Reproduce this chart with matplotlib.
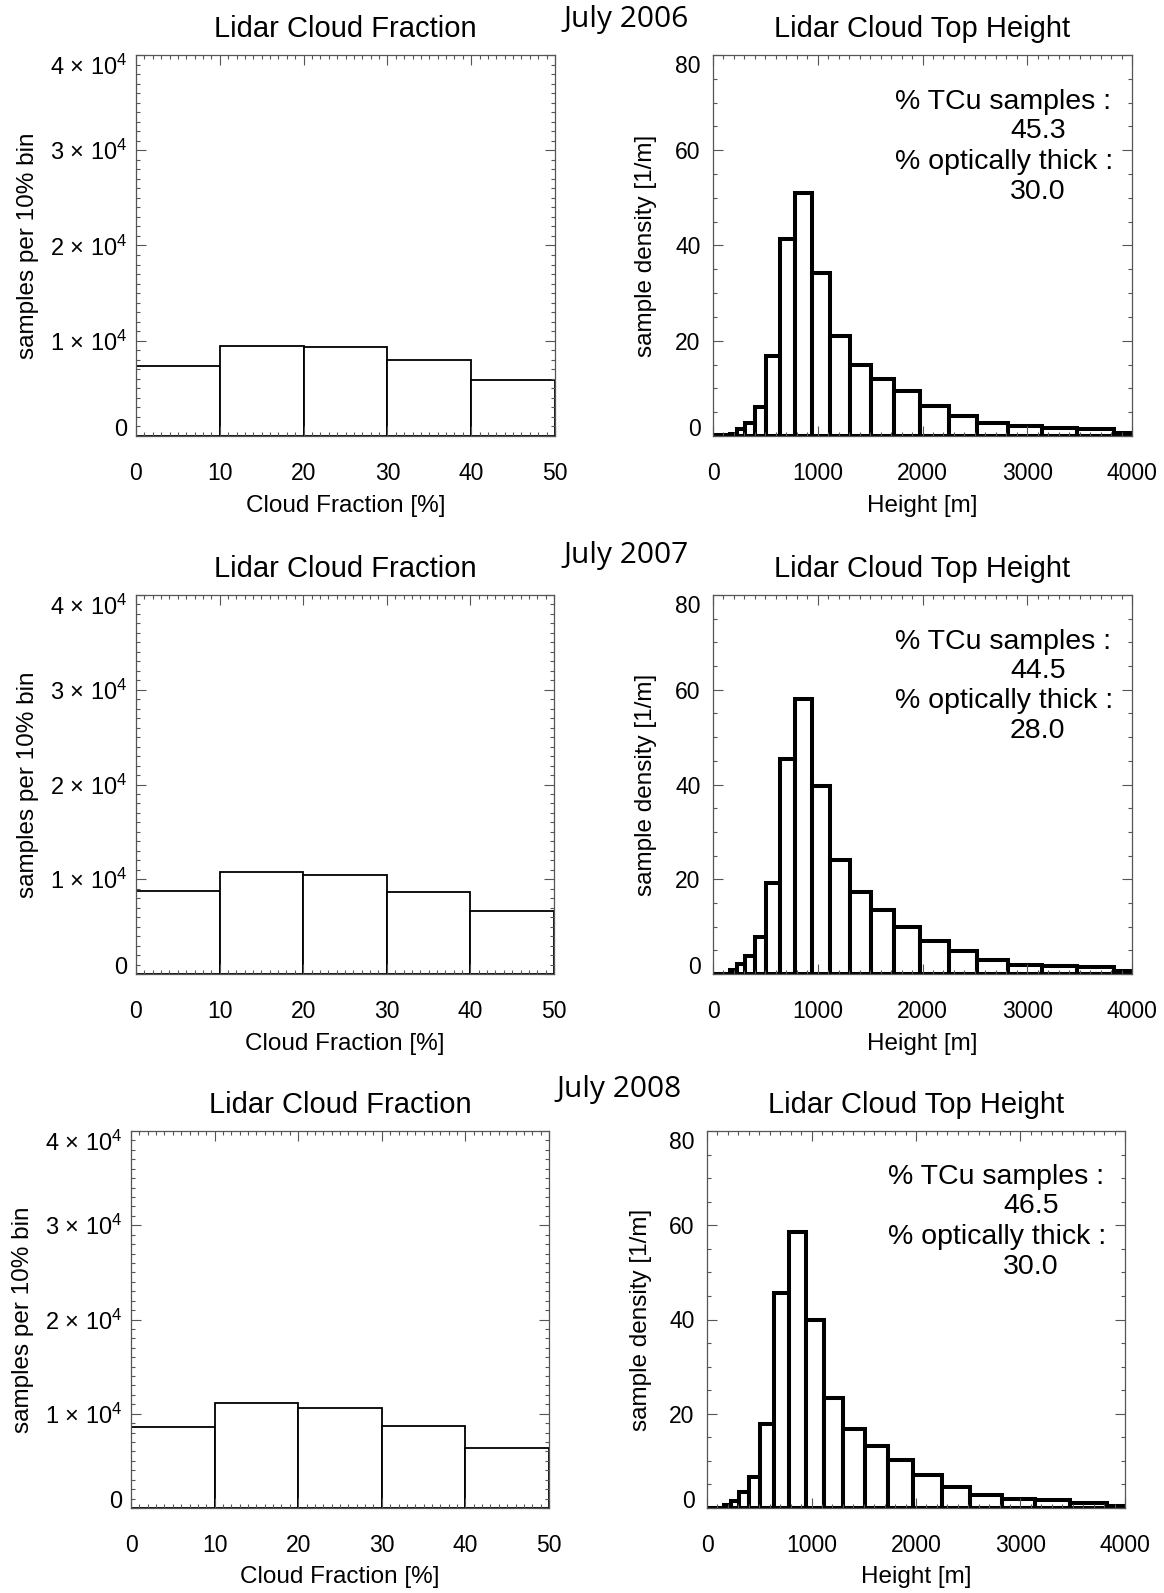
import numpy as np
import matplotlib
matplotlib.use('Agg')
import matplotlib.pyplot as plt
from matplotlib.ticker import MultipleLocator

plt.rcParams['font.family'] = ['Liberation Sans', 'DejaVu Sans']
plt.rcParams['mathtext.fontset'] = 'custom'
plt.rcParams['mathtext.rm'] = 'Liberation Sans'
plt.rcParams['mathtext.it'] = 'Liberation Sans:italic'

# ---- data ----
years = ['July 2006', 'July 2007', 'July 2008']

frac_edges = [0, 10, 20, 30, 40, 50]
frac_counts = [
    [7300, 9450, 9300, 7950, 5850],    # 2006
    [8800, 10800, 10500, 8700, 6700],  # 2007
    [8600, 11100, 10600, 8700, 6400],  # 2008
]

height_edges = [0, 160, 230, 305, 400, 505, 640, 780, 945, 1115, 1305,
                1510, 1730, 1975, 2250, 2520, 2820, 3140, 3475, 3825, 4180]
dens_2006 = [0.15, 0.5, 1.4, 2.7, 6.0, 16.9, 41.3, 51.0, 34.2, 21.1,
             14.9, 12.0, 9.4, 6.2, 4.2, 2.7, 2.0, 1.6, 1.4, 0.6]
dens_2007 = [0.1, 0.9, 2.1, 3.7, 7.9, 19.2, 45.4, 58.1, 39.6, 24.0,
             17.4, 13.6, 9.9, 6.9, 4.8, 2.9, 2.0, 1.6, 1.4, 0.6]
dens_2008 = [0.1, 0.7, 1.4, 3.5, 6.6, 17.9, 45.6, 58.6, 40.0, 23.3,
             16.8, 13.1, 10.2, 6.9, 4.4, 2.8, 1.9, 1.6, 1.1, 0.5]
dens_all = [dens_2006, dens_2007, dens_2008]

tcu_pct = ['45.3', '44.5', '46.5']
thick_pct = ['30.0', '28.0', '30.0']

frac_yticks = [0, 10000, 20000, 30000, 40000]
frac_ylabels = ['0', '1 × 10$^{4}$', '2 × 10$^{4}$', '3 × 10$^{4}$', '4 × 10$^{4}$']

W, H = 1164, 1593
fig = plt.figure(figsize=(W / 100, H / 100), dpi=100)

# panel boxes in pixels: (left, top, right, bottom)
left_boxes = [(136, 55, 555, 436), (136, 595, 554, 974), (131, 1131, 549, 1508)]
right_boxes = [(713, 55, 1132, 436), (713, 595, 1132, 974), (707, 1131, 1125, 1508)]
year_pos = [(626, 20), (626, 556), (619, 1090)]
ylab_x_left = [-0.232, -0.232, -0.233]
ylab_x_right = [-0.133, -0.133, -0.131]

SPINE = '#555555'


def make_ax(box):
    l, t, r, b = box
    ax = fig.add_axes([l / W, 1 - b / H, (r - l) / W, (b - t) / H])
    for s in ax.spines.values():
        s.set_color(SPINE)
        s.set_linewidth(0.9)
    ax.tick_params(which='both', direction='in', top=True, right=True,
                   color=SPINE, width=0.8)
    ax.tick_params(which='major', length=7.2)
    ax.tick_params(which='minor', length=3.0)
    ax.tick_params(axis='x', pad=19, labelsize=16.5)
    ax.tick_params(axis='y', labelsize=16.5)
    return ax


def shift_edge_labels(ax):
    labs = ax.get_yticklabels()
    labs[0].set_va('baseline')
    labs[-1].set_va('top')


for i in range(3):
    # cloud fraction histogram
    ax = make_ax(left_boxes[i])
    ax.bar(frac_edges[:-1], frac_counts[i], width=np.diff(frac_edges),
           align='edge', facecolor='white', edgecolor='black', linewidth=1.3)
    ax.set_xlim(0, 50)
    ax.set_ylim(0, 40000)
    ax.set_xticks(frac_edges)
    ax.xaxis.set_minor_locator(MultipleLocator(1))
    ax.set_yticks(frac_yticks)
    ax.set_yticklabels(frac_ylabels)
    ax.yaxis.set_minor_locator(MultipleLocator(1000))
    ax.tick_params(axis='y', pad=6, labelsize=17)
    shift_edge_labels(ax)
    ax.set_title('Lidar Cloud Fraction', fontsize=21, pad=13)
    ax.set_xlabel('Cloud Fraction [%]', fontsize=17.5)
    ax.set_ylabel('samples per 10% bin', fontsize=17.5)
    ax.xaxis.set_label_coords(0.5, -0.155)
    ax.yaxis.set_label_coords(ylab_x_left[i], 0.5)

    # cloud top height histogram
    ax = make_ax(right_boxes[i])
    ax.bar(height_edges[:-1], dens_all[i], width=np.diff(height_edges),
           align='edge', facecolor='white', edgecolor='black', linewidth=2.9)
    ax.set_xlim(0, 4000)
    ax.set_ylim(0, 80)
    ax.set_xticks([0, 1000, 2000, 3000, 4000])
    ax.xaxis.set_minor_locator(MultipleLocator(100))
    ax.set_yticks([0, 20, 40, 60, 80])
    ax.yaxis.set_minor_locator(MultipleLocator(5))
    ax.tick_params(axis='y', pad=9)
    shift_edge_labels(ax)
    ax.set_title('Lidar Cloud Top Height', fontsize=21, pad=13)
    ax.set_xlabel('Height [m]', fontsize=17.5)
    ax.set_ylabel('sample density [1/m]', fontsize=17.5)
    ax.xaxis.set_label_coords(0.5, -0.155)
    ax.yaxis.set_label_coords(ylab_x_right[i], 0.5)

    ax.text(0.434, 0.877, '% TCu samples :', transform=ax.transAxes,
            fontsize=20.5, va='center', ha='left')
    ax.text(0.709, 0.80, tcu_pct[i], transform=ax.transAxes,
            fontsize=20.5, va='center', ha='left')
    ax.text(0.434, 0.72, '% optically thick :', transform=ax.transAxes,
            fontsize=20.5, va='center', ha='left')
    ax.text(0.709, 0.64, thick_pct[i], transform=ax.transAxes,
            fontsize=20.5, va='center', ha='left')

    x, y = year_pos[i]
    fig.text(x / W, 1 - y / H, years[i], fontsize=21.5, ha='center',
             va='center', family=['Open Sans', 'DejaVu Sans'])

fig.savefig('out.png', dpi=100)
